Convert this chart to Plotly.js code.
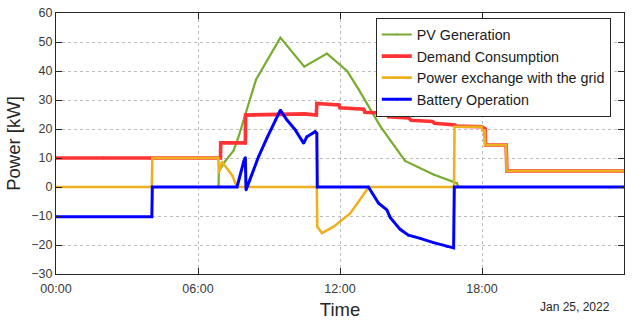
<!DOCTYPE html>
<html>
<head>
<meta charset="utf-8">
<script src="https://cdn.plot.ly/plotly-3.0.1.min.js"></script>
<style>html,body{margin:0;padding:0;background:#fff;}#chart{width:639px;height:320px;}</style>
</head>
<body>
<div id="chart"></div>
<script>
// ---- data (hours of day, kW) ----
const pvTime  = [0, 6.87, 6.88, 7.16, 7.5, 7.7, 8.0, 8.45, 9.48, 10.49, 11.45, 12.3, 12.8, 13.7, 14.75, 15.95, 16.94, 17.0, 24];
const pvPower = [0, 0, 5.5, 9, 12.5, 17, 25, 37, 51.5, 41.5, 46, 40, 33.5, 21, 9, 4.3, 1.3, 0, 0];

const demandTime  = [0, 2, 4, 6.95, 6.96, 8.0, 8.01, 9.5, 10.5, 11.0, 11.02, 11.95, 12.0, 13.0, 13.05, 14.0, 14.05, 14.9, 15.0, 15.9, 16.0, 16.85, 16.9, 18.0, 18.13, 18.15, 19.02, 19.05, 24];
const demandPower = [10, 10, 10, 10, 15.2, 15.2, 24.8, 25.0, 25.2, 24.8, 28.8, 28.3, 27.3, 26.8, 25.8, 25.4, 24.2, 23.8, 23.0, 22.6, 22.0, 21.4, 21.0, 20.8, 20.0, 14.5, 14.5, 5.5, 5.5];

const gridTime  = [0, 4.05, 4.07, 6.86, 6.88, 7.01, 7.44, 7.58, 7.65, 11.02, 11.04, 11.24, 11.73, 12.43, 12.93, 13.2, 13.22, 16.82, 16.84, 17.99, 18.01, 18.12, 18.14, 19.02, 19.04, 24];
const gridPower = [0, 0, 10, 10, 5.0, 8.7, 4.1, 1.3, 0, 0, -13.7, -15.9, -13.7, -9.1, -3.3, -0.3, 0, 0, 20.8, 20.8, 19.5, 19.5, 14.5, 14.5, 5.5, 5.5];

const batteryTime  = [0, 4.05, 4.07, 7.65, 7.93, 8.0, 8.03, 8.1, 8.56, 8.92, 9.27, 9.48, 9.76, 10.11, 10.46, 10.6, 10.95, 11.02, 11.04, 13.2, 13.63, 13.98, 14.12, 14.54, 14.89, 15.39, 15.95, 16.51, 16.8, 16.83, 24];
const batteryPower = [-10.3, -10.3, 0, 0, 8.7, 10.2, -1, 0.5, 10.5, 17, 23, 26.5, 23.1, 19.7, 15.1, 17.3, 19.1, 18.5, 0, 0, -5.6, -7.9, -10.5, -14.6, -16.6, -17.7, -19.2, -20.5, -21.0, 0, 0];

const seriesNames = ['PV Generation', 'Demand Consumption', 'Power exchange with the grid', 'Battery Operation'];
const xTickVals = [0, 6, 12, 18, 24];
const xTickText = ['00:00', '06:00', '12:00', '18:00', '00:00'];
const dateLabel = 'Jan 25, 2022';

const colors = ['#77AC30', '#FF3333', '#EDB120', '#0000FF'];
const widths = [2.2, 3.6, 2.6, 3];

const xs = [pvTime, demandTime, gridTime, batteryTime];
const ys = [pvPower, demandPower, gridPower, batteryPower];

const traces = xs.map((x, i) => ({
  x: x, y: ys[i], name: seriesNames[i], type: 'scatter', mode: 'lines+markers',
  line: {color: colors[i], width: widths[i]},
  marker: {color: colors[i], size: Math.max(2, widths[i] - 0.5)}
}));

const FONT = 'Liberation Sans, Arial, sans-serif';
const axisCommon = {
  showgrid: true, gridcolor: '#bdbdbd', griddash: 'dot', gridwidth: 1,
  showline: true, linecolor: '#262626', linewidth: 1, mirror: 'ticks',
  ticks: 'inside', ticklen: 6, tickcolor: '#262626', zeroline: false,
  tickfont: {family: FONT, size: 12.5, color: '#3a3a3a'}
};

const layout = {
  width: 639, height: 320,
  margin: {l: 56, r: 15, t: 13, b: 46},
  paper_bgcolor: '#ffffff', plot_bgcolor: '#ffffff',
  font: {family: FONT, color: '#262626'},
  showlegend: true,
  legend: {
    x: 0.563, y: 0.982, xanchor: 'left', yanchor: 'top',
    bgcolor: '#ffffff', bordercolor: '#262626', borderwidth: 1,
    font: {family: FONT, size: 14.3, color: '#1a1a1a'},
    tracegroupgap: 0
  },
  xaxis: Object.assign({}, axisCommon, {
    range: [0, 24], tickmode: 'array', tickvals: xTickVals, ticktext: xTickText,
    ticklabelstandoff: 3,
    title: {text: 'Time', font: {family: FONT, size: 18.5, color: '#262626'}, standoff: 9}
  }),
  yaxis: Object.assign({}, axisCommon, {
    range: [-30, 60], dtick: 10, tick0: 0,
    title: {text: 'Power [kW]', font: {family: FONT, size: 18.5, color: '#262626'}, standoff: 5}
  }),
  annotations: [{
    text: dateLabel, xref: 'paper', yref: 'paper', x: 1.0, y: 0, xanchor: 'right', yanchor: 'top',
    yshift: -24, xshift: -12, showarrow: false,
    font: {family: FONT, size: 12, color: '#262626'}
  }]
};

Plotly.newPlot('chart', traces, layout, {displayModeBar: false, staticPlot: true});
</script>
</body>
</html>
